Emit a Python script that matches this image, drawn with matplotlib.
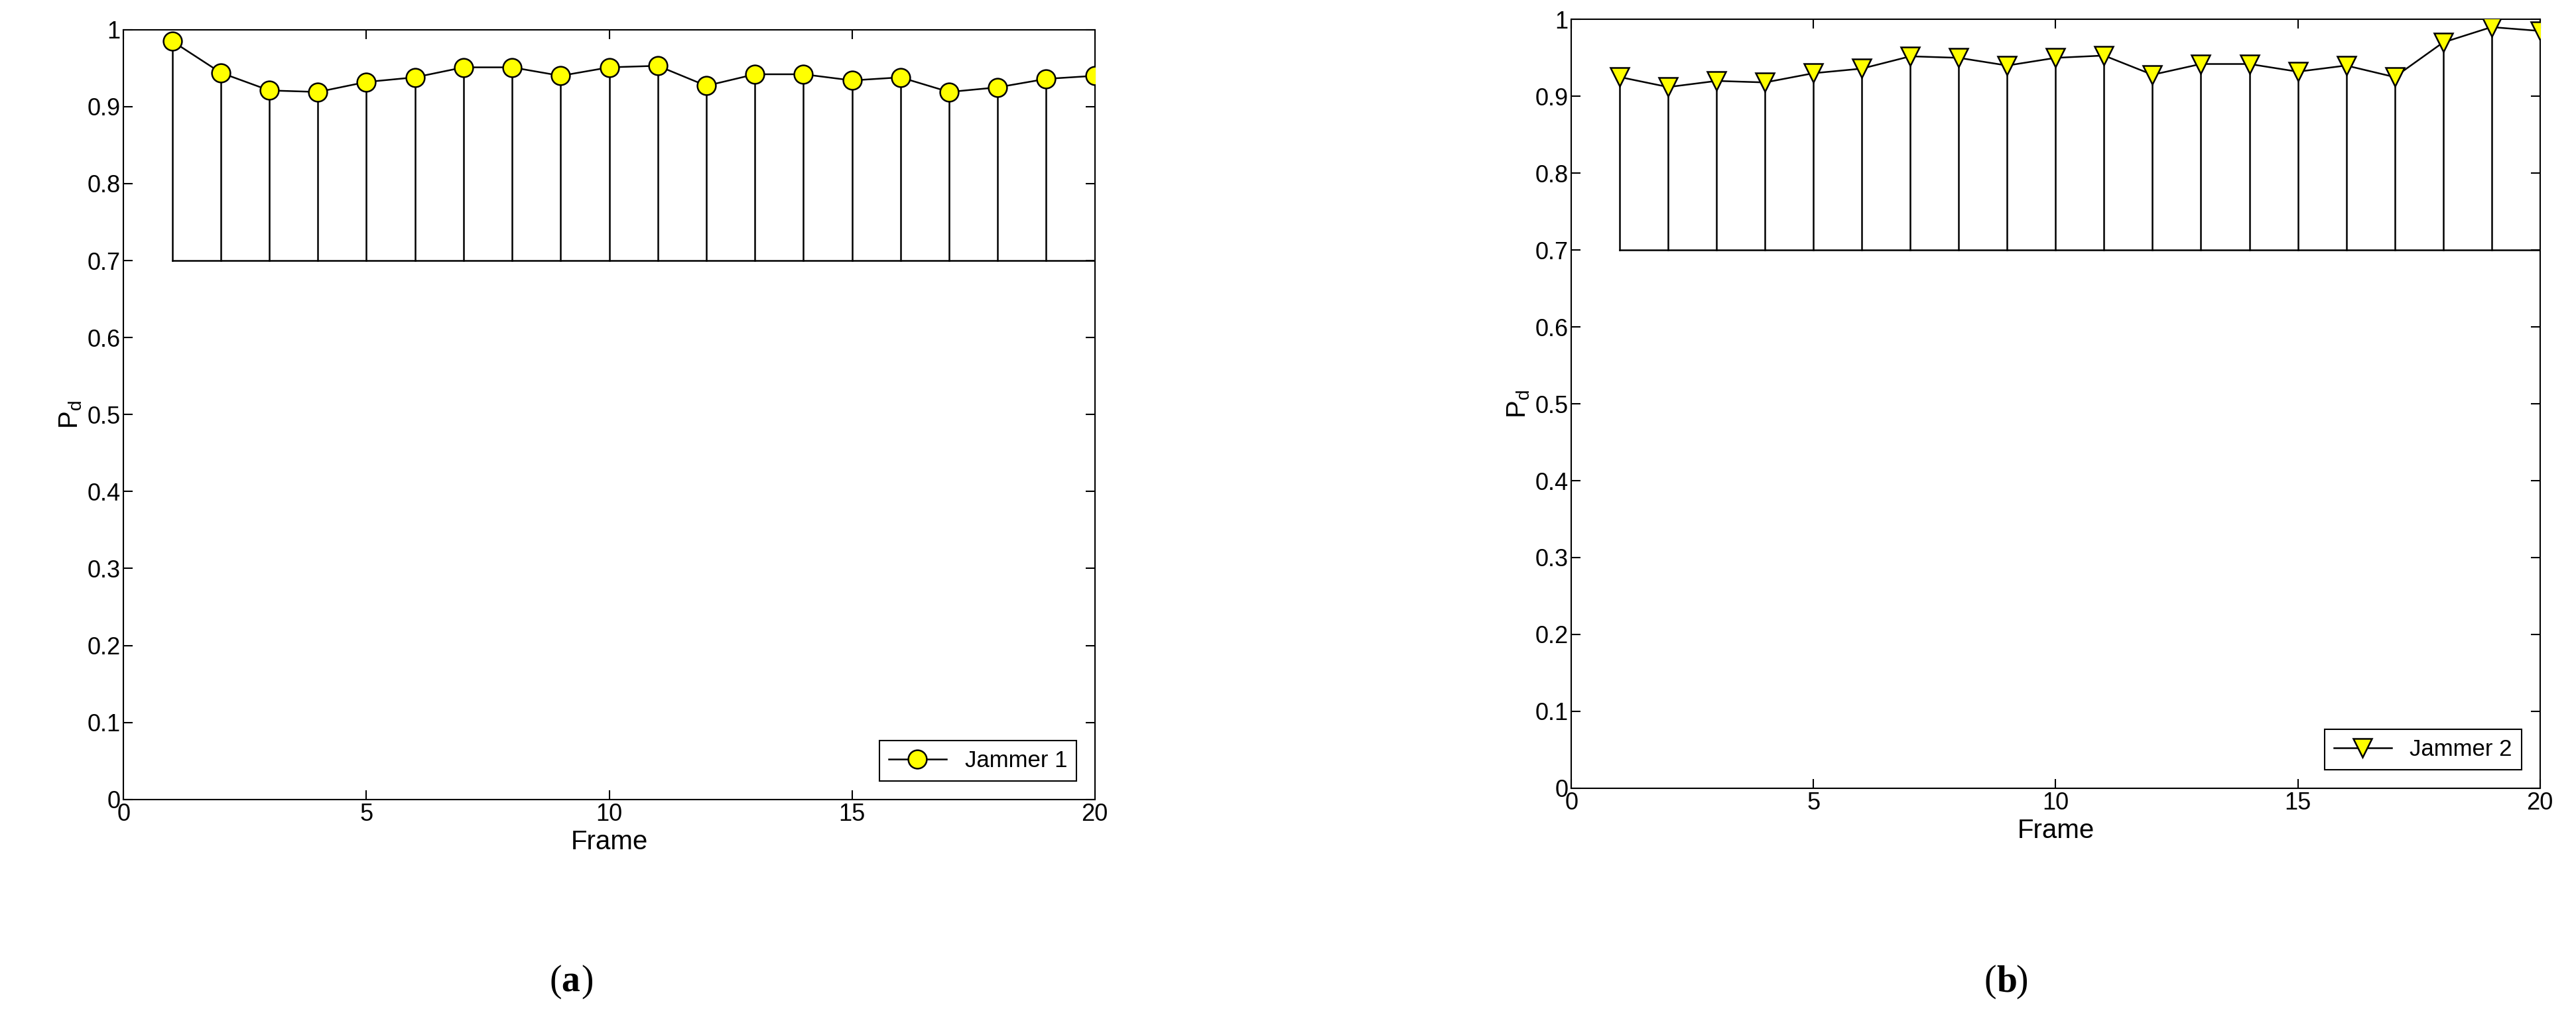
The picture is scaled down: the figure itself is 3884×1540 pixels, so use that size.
import matplotlib
matplotlib.use("Agg")
import matplotlib.pyplot as plt
from matplotlib.lines import Line2D

frames = list(range(1, 21))
jammer1 = [0.985, 0.944, 0.921, 0.919, 0.932, 0.938, 0.951, 0.951, 0.940, 0.951,
           0.953, 0.927, 0.942, 0.942, 0.934, 0.938, 0.919, 0.925, 0.936, 0.940]
jammer2 = [0.925, 0.912, 0.920, 0.918, 0.930, 0.936, 0.952, 0.950, 0.940, 0.950,
           0.953, 0.928, 0.942, 0.942, 0.932, 0.940, 0.925, 0.970, 0.990, 0.985]
baseline = 0.7
yticks = [0, 0.1, 0.2, 0.3, 0.4, 0.5, 0.6, 0.7, 0.8, 0.9, 1]
yticklabels = ["0", "0.1", "0.2", "0.3", "0.4", "0.5", "0.6", "0.7", "0.8", "0.9", "1"]

plt.rcParams['font.family'] = ['Liberation Sans', 'DejaVu Sans']
fig = plt.figure(figsize=(38.84, 15.40), dpi=100)

def panel(rect, vals, marker, label, caption, cx):
    ax = fig.add_axes(rect)
    for x, v in zip(frames, vals):
        ax.plot([x, x], [baseline, v], color='black', lw=1.8, zorder=2)
    ax.plot([frames[0], frames[-1]], [baseline, baseline], color='black', lw=1.8, zorder=2)
    ax.plot(frames, vals, color='black', lw=1.8, marker=marker, markersize=20,
            markerfacecolor='#ffff00', markeredgecolor='black', markeredgewidth=1.8, zorder=3)
    ax.set_xlim(0, 20)
    ax.set_ylim(0, 1)
    ax.set_xticks([0, 5, 10, 15, 20])
    ax.set_yticks(yticks)
    ax.set_yticklabels(yticklabels)
    ax.tick_params(labelsize=26, direction='in', length=10, width=1.5, top=True, right=True)
    for s in ax.spines.values():
        s.set_linewidth(1.5)
    ax.set_xlabel("Frame", fontsize=29)
    ax.set_ylabel("P$_\\mathregular{d}$", fontsize=29)
    h = Line2D([], [], color='black', lw=1.8, marker=marker, markersize=20,
               markerfacecolor='#ffff00', markeredgecolor='black', markeredgewidth=1.8)
    leg = ax.legend([h], [label], loc='lower right', fontsize=25, fancybox=False,
                    framealpha=1, edgecolor='black', borderaxespad=0.8, handlelength=2.5)
    leg.get_frame().set_linewidth(1.5)
    fig.text(cx, 0.038, "(", fontsize=40, family='Liberation Serif', ha='right', va='center')
    fig.text(cx, 0.038, caption, fontsize=40, family='Liberation Serif', weight='bold', ha='left', va='center')
    fig.text(cx + 0.0075, 0.038, ")", fontsize=40, family='Liberation Serif', ha='left', va='center')
    return ax

panel([0.048, 0.217, 0.377, 0.754], jammer1, 'o', "Jammer 1", "a", 0.218)
panel([0.610, 0.228, 0.376, 0.753], jammer2, 'v', "Jammer 2", "b", 0.775)

fig.savefig("out.png", dpi=100)
